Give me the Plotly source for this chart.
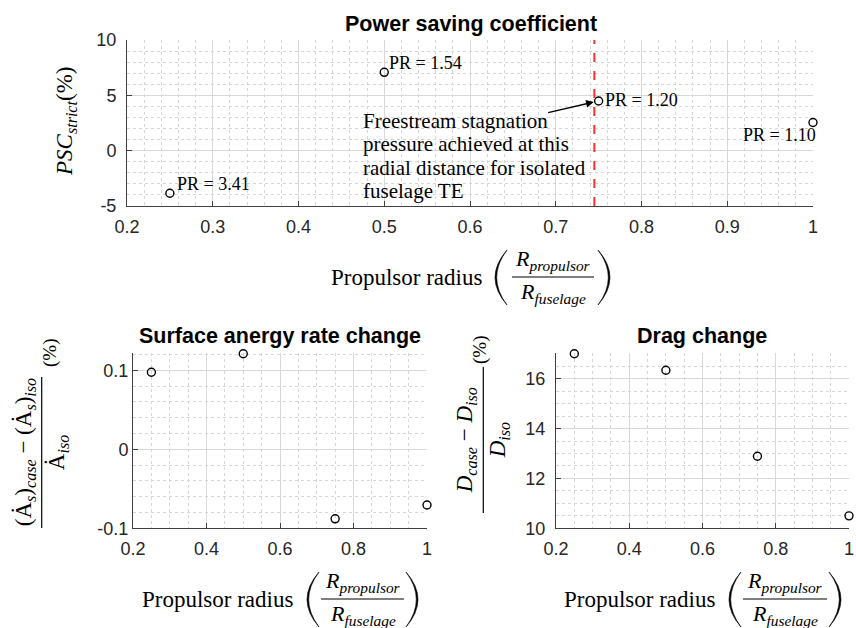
import plotly.graph_objects as go

# ---------------- data ----------------
radius = [0.25, 0.5, 0.75, 1.0]
psc_strict = [-3.85, 7.08, 4.49, 2.55]
pr_labels = ["PR = 3.41", "PR = 1.54", "PR = 1.20", "PR = 1.10"]
surface_energy_change = [0.0975, 0.121, -0.088, -0.0705]
drag_change = [17.0, 16.34, 12.89, 10.5]
stagnation_radius = 0.745

top_xticks = [0.2, 0.3, 0.4, 0.5, 0.6, 0.7, 0.8, 0.9, 1.0]
top_xticktext = ["0.2", "0.3", "0.4", "0.5", "0.6", "0.7", "0.8", "0.9", "1"]
top_yticks = [-5, 0, 5, 10]
top_yticktext = ["-5", "0", "5", "10"]
bot_xticks = [0.2, 0.4, 0.6, 0.8, 1.0]
bot_xticktext = ["0.2", "0.4", "0.6", "0.8", "1"]
surf_yticks = [-0.1, 0.0, 0.1]
surf_yticktext = ["-0.1", "0", "0.1"]
drag_yticks = [10, 12, 14, 16]
drag_yticktext = ["10", "12", "14", "16"]

annotation_lines = ["Freestream stagnation", "pressure achieved at this",
                    "radial distance for isolated", "fuselage TE"]

# ---------------- layout helpers ----------------
W, H = 856, 628
SANS = "Liberation Sans, Arial, sans-serif"
SERIF = "Liberation Serif, Times New Roman, serif"


def px(x):
    return x / W


def py(y):
    return 1 - y / H


def axis(domain, rng, tickvals, ticktext, minor_dtick, minor_tick0, standoff):
    return dict(
        domain=domain, range=rng, tickmode="array", tickvals=tickvals, ticktext=ticktext,
        automargin=False,
        showline=True, linecolor="#404040", linewidth=1,
        ticks="inside", ticklen=5, tickcolor="#404040", tickwidth=1,
        tickfont=dict(family=SANS, size=18, color="#262626"),
        ticklabelstandoff=standoff,
        showgrid=True, gridcolor="#d8d8d8", gridwidth=1, zeroline=False,
        minor=dict(tickmode="linear", tick0=minor_tick0, dtick=minor_dtick, showgrid=True,
                   gridcolor="#d6d6d6", griddash="dot", gridwidth=1, ticks=""),
        fixedrange=True, layer="below traces",
    )


marker = dict(symbol="circle-open", size=8, color="black", line=dict(width=1.4, color="black"))

fig = go.Figure()
fig.add_trace(go.Scatter(x=radius, y=psc_strict, mode="markers", marker=marker, cliponaxis=False,
                         xaxis="x", yaxis="y", showlegend=False, hoverinfo="skip"))
fig.add_trace(go.Scatter(x=radius, y=surface_energy_change, mode="markers", marker=marker,
                         cliponaxis=False, xaxis="x2", yaxis="y2", showlegend=False, hoverinfo="skip"))
fig.add_trace(go.Scatter(x=radius, y=drag_change, mode="markers", marker=marker, cliponaxis=False,
                         xaxis="x3", yaxis="y3", showlegend=False, hoverinfo="skip"))

top_dx = [px(127), px(813)]
top_dy = [py(206), py(40)]
bl_dx = [px(133), px(427)]
br_dx = [px(556), px(849)]
bot_dy = [py(528.3), py(353.3)]

xa1 = axis(top_dx, [0.2, 1.0], top_xticks, top_xticktext, 0.02, 0.2, 4)
ya1 = axis(top_dy, [-5, 10], top_yticks, top_yticktext, 1, -5, 6)
xa2 = axis(bl_dx, [0.2, 1.0], bot_xticks, bot_xticktext, 0.05, 0.2, 4)
ya2 = axis(bot_dy, [-0.1, 0.1215], surf_yticks, surf_yticktext, 0.02, -0.1, 0)
xa3 = axis(br_dx, [0.2, 1.0], bot_xticks, bot_xticktext, 0.05, 0.2, 4)
ya3 = axis(bot_dy, [10, 17.02], drag_yticks, drag_yticktext, 0.5, 10, 6)
xa1["anchor"] = "y"; ya1["anchor"] = "x"
xa2["anchor"] = "y2"; ya2["anchor"] = "x2"
xa3["anchor"] = "y3"; ya3["anchor"] = "x3"

annotations = []
shapes = []

# subplot titles
for text, cx, cy in [("Power saving coefficient", 471, 24),
                     ("Surface anergy rate change", 280, 336),
                     ("Drag change", 702, 336)]:
    annotations.append(dict(text=f"<b>{text}</b>", x=px(cx), y=py(cy), xref="paper", yref="paper",
                            xanchor="center", yanchor="middle", showarrow=False,
                            font=dict(family=SANS, size=21.5, color="black")))

# PR labels
pr_place = [("left", 6, 9), ("left", 4, 9), ("left", 5, 1), ("right", 4, -13)]
for xv, yv, lab, (xa, xs, ys) in zip(radius, psc_strict, pr_labels, pr_place):
    annotations.append(dict(text=lab, x=xv, y=yv, xref="x", yref="y", xanchor=xa, yanchor="middle",
                            xshift=xs, yshift=ys, showarrow=False, borderpad=0,
                            font=dict(family=SERIF, size=18, color="black")))

# explanatory text and arrow
for i, line in enumerate(annotation_lines):
    annotations.append(dict(text=line, x=px(362), y=py(121 + i * 23.4), xref="paper", yref="paper",
                            xanchor="left", yanchor="middle", showarrow=False, borderpad=0,
                            font=dict(family=SERIF, size=21, color="black")))
annotations.append(dict(text="", x=radius[2], y=psc_strict[2], xref="x", yref="y",
                        ax=-52, ay=12, showarrow=True, arrowhead=2, arrowsize=1.1,
                        arrowwidth=1.4, arrowcolor="black", standoff=5))

# stagnation line
shapes.append(dict(type="line", xref="x", yref="y", x0=stagnation_radius, x1=stagnation_radius,
                   y0=-5, y1=10, line=dict(color="#ff3030", width=2, dash="dash")))


def paren(x_end, x_out, y_top, y_bot, thick=1.7):
    ym = (y_top + y_bot) / 2
    x_in = x_out + thick if x_out < x_end else x_out - thick
    path = (f"M {px(x_end)},{py(y_top)} Q {px(2 * x_out - x_end)},{py(ym)} {px(x_end)},{py(y_bot)} "
            f"Q {px(2 * x_in - x_end)},{py(ym)} {px(x_end)},{py(y_top)} Z")
    return dict(type="path", path=path, xref="paper", yref="paper", fillcolor="black",
                line=dict(color="black", width=0.6))


def xlabel(text_cx, y_mid, lp, rp, frac_l, frac_r, ptop, pbot):
    annotations.append(dict(text="Propulsor radius", x=px(text_cx), y=py(y_mid), xref="paper",
                            yref="paper", xanchor="center", yanchor="middle", showarrow=False,
                            font=dict(family=SERIF, size=23, color="black")))
    fc = (frac_l + frac_r) / 2
    annotations.append(dict(text="<i>R</i><sub><i>propulsor</i></sub>", x=px(fc), y=py(y_mid - 2),
                            xref="paper", yref="paper", xanchor="center", yanchor="bottom",
                            showarrow=False, borderpad=0, font=dict(family=SERIF, size=22, color="black")))
    annotations.append(dict(text="<i>R</i><sub><i>fuselage</i></sub>", x=px(fc), y=py(y_mid + 1),
                            xref="paper", yref="paper", xanchor="center", yanchor="top",
                            showarrow=False, borderpad=0, font=dict(family=SERIF, size=22, color="black")))
    shapes.append(dict(type="line", xref="paper", yref="paper", x0=px(frac_l), x1=px(frac_r),
                       y0=py(y_mid), y1=py(y_mid), line=dict(color="black", width=1.2)))
    shapes.append(paren(lp + 12, lp, ptop, pbot))
    shapes.append(paren(rp - 12, rp, ptop, pbot))


xlabel(406, 277, 495, 610, 512, 594, 250, 305)
xlabel(217, 599, 307, 418, 321, 404, 572, 627)
xlabel(639, 599, 729, 841, 743, 827, 572, 627)

# y labels
annotations.append(dict(text="<i>PSC</i><sub><i>strict</i></sub>(%)", x=px(66), y=py(122),
                        xref="paper", yref="paper", xanchor="center", yanchor="middle",
                        textangle=-90, showarrow=False, font=dict(family=SERIF, size=23, color="black")))


def yfrac(num, den, bar_x, y_top, y_bot, pct_x, pct_y, size=23):
    yc = (y_top + y_bot) / 2
    annotations.append(dict(text=num, x=px(bar_x - 2), y=py(yc), xref="paper", yref="paper",
                            xanchor="right", yanchor="middle", textangle=-90, showarrow=False,
                            borderpad=0, font=dict(family=SERIF, size=size, color="black")))
    annotations.append(dict(text=den, x=px(bar_x + 1), y=py(yc), xref="paper", yref="paper",
                            xanchor="left", yanchor="middle", textangle=-90, showarrow=False,
                            borderpad=0, font=dict(family=SERIF, size=size, color="black")))
    annotations.append(dict(text="(%)", x=px(pct_x), y=py(pct_y), xref="paper", yref="paper",
                            xanchor="center", yanchor="middle", textangle=-90, showarrow=False,
                            font=dict(family=SERIF, size=size - 4, color="black")))
    shapes.append(dict(type="line", xref="paper", yref="paper", x0=px(bar_x), x1=px(bar_x),
                       y0=py(y_top), y1=py(y_bot), line=dict(color="black", width=1.2)))


yfrac("(Ȧ<sub><i>s</i></sub>)<sub><i>case</i></sub> − (Ȧ<sub><i>s</i></sub>)<sub><i>iso</i></sub>",
      "Ȧ<sub><i>iso</i></sub>", 41.7, 377, 528, 50, 353)
yfrac("<i>D</i><sub><i>case</i></sub> − <i>D</i><sub><i>iso</i></sub>",
      "<i>D</i><sub><i>iso</i></sub>", 483.3, 367, 513, 480, 350)

fig.update_layout(
    template="none",
    width=W, height=H, margin=dict(l=0, r=0, t=0, b=0, autoexpand=False),
    paper_bgcolor="white", plot_bgcolor="white",
    xaxis=xa1, yaxis=ya1, xaxis2=xa2, yaxis2=ya2, xaxis3=xa3, yaxis3=ya3,
    annotations=annotations, shapes=shapes, showlegend=False,
)

# remove the browser's default 8 px page margin so the figure fills the window exactly
fig.write_html("out.html", config={"displayModeBar": False},
               post_script="document.body.style.margin='0';document.body.style.overflow='hidden';")
